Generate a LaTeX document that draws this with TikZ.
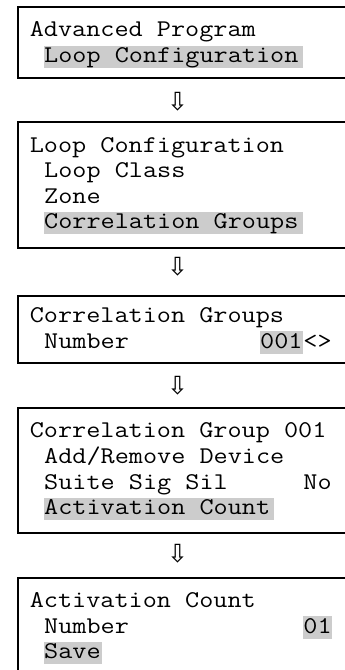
\documentclass[tikz,border=0pt]{standalone}
\usepackage{fontspec}
\usepackage{graphicx}
\newfontfamily\arrowfont{DejaVu Sans}
\definecolor{hlgray}{HTML}{CCCCCC}
\newcommand\lcdtxt[4]{\node[lcd] (#1) at ({29.6+14.4*#2},#3) {\scalebox{1.143}[1]{#4}};}
\newcommand\lcdhl[5]{\fill[hl] ({29.6+14.4*#2},#3-17) rectangle ({29.6+14.4*(#2+#5)},#3+5.5);
  \node[lcd] (#1) at ({29.6+14.4*#2},#3) {\scalebox{1.143}[1]{#4}};}
\begin{document}
\begin{tikzpicture}[x=1pt,y=-1pt,
  lcd/.style={anchor=base west,inner sep=0pt,font=\ttfamily\fontsize{24}{26}\selectfont,text=black},
  hl/.style={fill=hlgray},
  lcdbox/.style={draw=black,line width=2.2pt,anchor=north west,minimum width=360pt,inner sep=0pt},
  downarrow/.style={inner sep=0pt,font=\arrowfont\fontsize{25}{25}\selectfont}]
\path[use as bounding box,clip] (0,0) rectangle (345,670);
\fill[white] (0,0) rectangle (345,670);
% boxes
\node[lcdbox,minimum height=71pt] (b1) at (16.7,6) {};
\node[lcdbox,minimum height=126pt] (b2) at (16.7,121) {};
\node[lcdbox,minimum height=67pt] (b3) at (16.7,295) {};
\node[lcdbox,minimum height=125pt] (b4) at (16.7,407) {};
\node[lcdbox,minimum height=140pt] (b5) at (16.7,577) {};
% box 1
\lcdtxt{t11}{0}{36.5}{Advanced Program}
\lcdhl{t12}{1}{62.5}{Loop Configuration}{18}
% box 2
\lcdtxt{t21}{0}{152}{Loop Configuration}
\lcdtxt{t22}{1}{177.5}{Loop Class}
\lcdtxt{t23}{1}{203}{Zone}
\lcdhl{t24}{1}{228.5}{Correlation Groups}{18}
% box 3
\lcdtxt{t31}{0}{322.5}{Correlation Groups}
\lcdtxt{t32}{1}{348}{Number}
\lcdhl{t33}{16}{348}{001}{3}
\lcdtxt{t34}{19}{348}{<>}
% box 4
\lcdtxt{t41}{0}{437}{Correlation Group 001}
\lcdtxt{t42}{1}{463}{Add/Remove Device}
\lcdtxt{t43}{1}{489}{Suite Sig Sil}
\lcdtxt{t44}{19}{489}{No}
\lcdhl{t45}{1}{514.5}{Activation Count}{16}
% box 5
\lcdtxt{t51}{0}{607}{Activation Count}
\lcdtxt{t52}{1}{633}{Number}
\lcdhl{t53}{19}{633}{01}{2}
\lcdhl{t54}{1}{658.5}{Save}{4}
% arrows
\node[downarrow] (a1) at (177.5,102) {⇩};
\node[downarrow] (a2) at (177.5,267) {⇩};
\node[downarrow] (a3) at (177.5,386) {⇩};
\node[downarrow] (a4) at (177.5,554) {⇩};
\end{tikzpicture}
\end{document}
